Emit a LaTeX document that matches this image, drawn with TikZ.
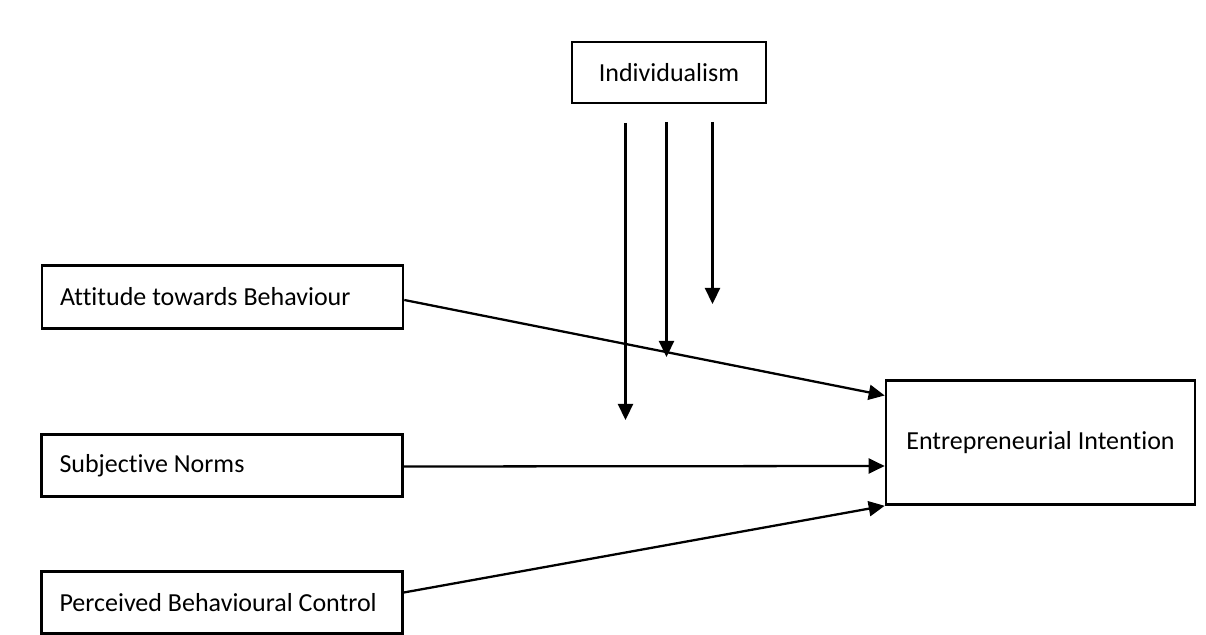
\documentclass[tikz,border=0pt]{standalone}
\usepackage{fontspec}
\setmainfont{Carlito}[Ligatures=NoCommon]
\usepackage{tikz}
\usetikzlibrary{arrows.meta, positioning, calc}
\hyphenpenalty=10000

\begin{document}
\begin{tikzpicture}[
        font=\fontsize{14.8pt}{18pt}\selectfont,
        >={Triangle[length=0.32cm, width=0.3cm]},
        construct/.style={rectangle, draw=black, line width=1.5pt, minimum height=1.25cm, text width=6.5cm, inner xsep=0.36cm, align=flush left},
        outcome/.style={rectangle, draw=black, line width=1.5pt, minimum width=6.18cm, minimum height=2.48cm, align=center},
        moderator/.style={rectangle, draw=black, line width=1.5pt, minimum width=3.88cm, minimum height=1.22cm, align=center},
        link/.style={->, line width=1.3pt}
    ]
        \fill[white] (0,0) rectangle (24.12,12.7);
        \useasboundingbox (0,0) rectangle (24.12,12.7);

        % Moderator
        \node[moderator] (ind) at (13.38, 11.25) {Individualism};

        % Predictors
        \node[construct] (att) at (4.45, 6.76) {Attitude towards Behaviour};
        \node[construct] (sn) at (4.44, 3.39) {Subjective Norms};
        \node[construct] (pbc) at (4.44, 0.65) {Perceived Behavioural Control};

        % Outcome
        \node[outcome] (ei) at (20.81, 3.85) {Entrepreneurial Intention};

        \draw[link] ([yshift=-0.06cm]att.east) -- ([yshift=0.94cm]ei.west);
        \draw[link] ([yshift=-0.02cm]sn.east) -- ([yshift=-0.47cm]ei.west);
        \draw[link] ([yshift=0.2cm]pbc.east) -- (ei.south west);

        % Moderating arrows
        \coordinate (m1) at (12.51, 10.24);
        \coordinate (m2) at (13.33, 10.26);
        \coordinate (m3) at (14.25, 10.26);
        \coordinate (t1) at (12.51, 4.30);
        \coordinate (t2) at (13.33, 5.56);
        \coordinate (t3) at (14.25, 6.62);
        \draw[link] (m1) -- (t1);
        \draw[link] (m2) -- (t2);
        \draw[link] (m3) -- (t3);
    \end{tikzpicture}
\end{document}
